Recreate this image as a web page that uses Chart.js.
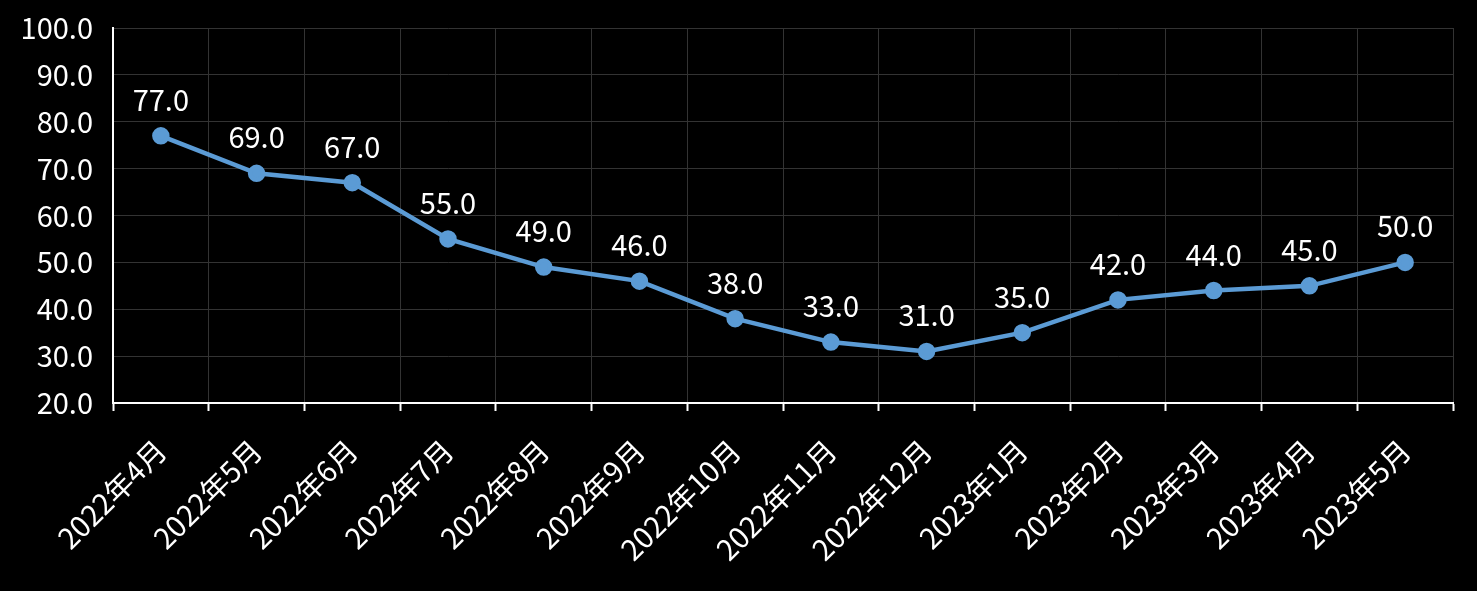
<!DOCTYPE html>
<html>
<head>
<meta charset="utf-8">
<script src="https://cdn.jsdelivr.net/npm/chart.js@4.4.1/dist/chart.umd.min.js"></script>
<style>
  html, body { margin: 0; padding: 0; background: #000; }
  #wrap { width: 1477px; height: 591px; }
</style>
</head>
<body>
<div id="wrap"><canvas id="lineChart"></canvas></div>
<script>
const months = ['2022年4月', '2022年5月', '2022年6月', '2022年7月', '2022年8月', '2022年9月', '2022年10月',
  '2022年11月', '2022年12月', '2023年1月', '2023年2月', '2023年3月', '2023年4月', '2023年5月'];
const values = [77, 69, 67, 55, 49, 46, 38, 33, 31, 35, 42, 44, 45, 50];
const yMin = 20;
const yMax = 100;
const yStep = 10;

const FONT = '"Noto Sans CJK SC", "Noto Sans", sans-serif';

// draws the value above each point
const pointLabels = {
  id: 'pointLabels',
  afterDatasetsDraw(chart) {
    const ctx = chart.ctx;
    const meta = chart.getDatasetMeta(0);
    ctx.save();
    ctx.fillStyle = '#ffffff';
    ctx.font = '29px ' + FONT;
    ctx.textAlign = 'center';
    ctx.textBaseline = 'middle';
    meta.data.forEach(function(pt, i) {
      ctx.fillText(values[i].toFixed(1), pt.x, pt.y - 36);
    });
    ctx.restore();
  }
};

document.addEventListener('DOMContentLoaded', function() {
  const ctx = document.getElementById('lineChart').getContext('2d');
  new Chart(ctx, {
    type: 'line',
    data: {
      labels: months,
      datasets: [{
        data: values,
        borderColor: '#5b9bd5',
        backgroundColor: '#5b9bd5',
        borderWidth: 4.5,
        pointRadius: 6.5,
        pointHoverRadius: 6.5,
        tension: 0
      }]
    },
    options: {
      responsive: true,
      maintainAspectRatio: false,
      animation: false,
      layout: { padding: { top: 28, right: 24, left: 0, bottom: 0 } },
      plugins: {
        legend: { display: false },
        tooltip: { enabled: false }
      },
      scales: {
        x: {
          offset: true,
          afterFit: function(s) {
            s.height = 188;
            s.paddingLeft = 0;
            s.paddingRight = 0;
          },
          grid: {
            offset: true,
            color: '#333333',
            lineWidth: 1,
            tickColor: '#ffffff',
            tickWidth: 2,
            tickLength: 8
          },
          border: { color: '#ffffff', width: 2 },
          ticks: {
            color: '#ffffff',
            font: { family: FONT, size: 29 },
            minRotation: 45,
            maxRotation: 45,
            autoSkip: false,
            padding: 22
          }
        },
        y: {
          min: yMin,
          max: yMax,
          afterFit: function(s) {
            s.width = 113;
            s.paddingTop = 0;
            s.paddingBottom = 0;
          },
          grid: {
            color: '#333333',
            lineWidth: 1,
            drawTicks: false
          },
          border: { color: '#ffffff', width: 2 },
          ticks: {
            stepSize: yStep,
            color: '#ffffff',
            font: { family: FONT, size: 29 },
            padding: 20,
            callback: function(v) { return v.toFixed(1); }
          }
        }
      }
    },
    plugins: [pointLabels]
  });
});
</script>
</body>
</html>
